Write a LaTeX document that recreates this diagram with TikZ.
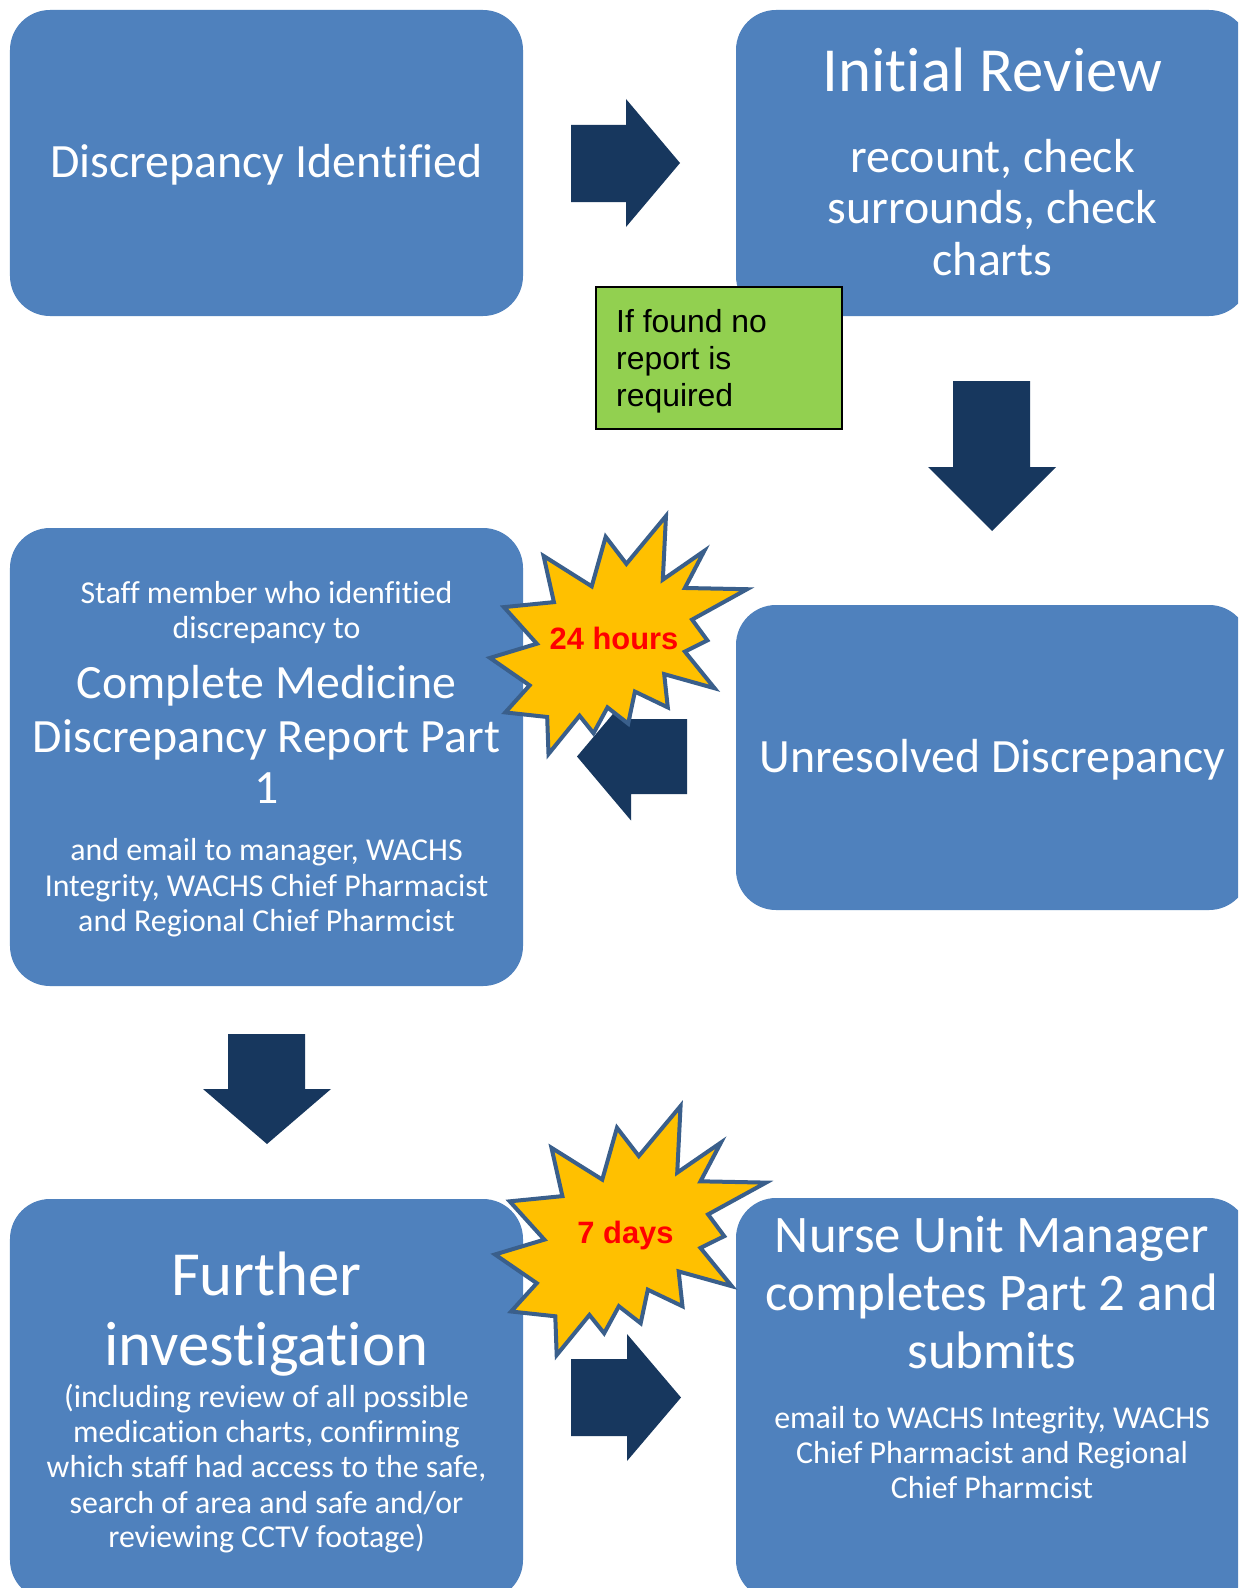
\documentclass[tikz,border=0pt]{standalone}
\usepackage{fontspec}
\setmainfont{Carlito}[Ligatures={CommonOff}]
\newfontfamily\arialf{Liberation Sans}
\definecolor{boxblue}{HTML}{4F81BD}
\definecolor{arrowblue}{HTML}{17375E}
\definecolor{starfill}{HTML}{FFC000}
\definecolor{starline}{HTML}{3A5F8B}
\definecolor{notegreen}{HTML}{92D050}
\tikzset{
  box/.style={fill=boxblue, draw=none, rounded corners=40bp, inner sep=0pt},
  blockarrow/.style={fill=arrowblue, draw=none},
  burst/.style={fill=starfill, draw=starline, line width=4bp, line join=miter},
  ln/.style={anchor=base, inner sep=0pt, text=white},
  fhuge/.style={font=\fontsize{63}{70}\selectfont},
  fmid/.style={font=\fontsize{53}{58}\selectfont},
  fhead/.style={font=\fontsize{48}{53}\selectfont},
  fsmall/.style={font=\fontsize{32}{35}\selectfont},
  notetxt/.style={anchor=base west, inner sep=0pt, text=black, font=\arialf\fontsize{32}{36}\selectfont},
  bursttxt/.style={anchor=base, inner sep=0pt, text=red, font=\arialf\bfseries\fontsize{31}{36}\selectfont},
}
\begin{document}
\begin{tikzpicture}[x=1bp,y=-1bp]
\useasboundingbox (0,0) rectangle (1238,1588);
\clip (0,0) rectangle (1238,1588);
\fill[white] (0,0) rectangle (1238,1588);

% boxes
\node[box, minimum width=513bp, minimum height=306bp] (b1) at (266.5,163) {};
\node[box, minimum width=513bp, minimum height=306bp] (b2) at (992.5,163) {};
\node[box, minimum width=513bp, minimum height=458bp] (b3) at (266.5,757) {};
\node[box, minimum width=513bp, minimum height=305bp] (b4) at (992.5,757.5) {};
\node[box, minimum width=513bp, minimum height=401bp] (b5) at (266.5,1399.5) {};
\node[box, minimum width=513bp, minimum height=402bp] (b6) at (992.5,1399) {};

% block arrows
\fill[blockarrow] (571,125) -- (626,125) -- (626,99) -- (680,163) -- (626,227) -- (626,202) -- (571,202) -- cycle;
\fill[blockarrow] (953,381) -- (1030,381) -- (1030,467) -- (1056,467) -- (992,531) -- (928,467) -- (953,467) -- cycle;
\fill[blockarrow] (687,719) -- (631,719) -- (631,692.5) -- (577,756.5) -- (631,820.5) -- (631,794) -- (687,794) -- cycle;
\fill[blockarrow] (228,1034) -- (305,1034) -- (305,1089) -- (331,1089) -- (267,1144) -- (203,1089) -- (228,1089) -- cycle;
\fill[blockarrow] (571,1359) -- (627,1359) -- (627,1334) -- (681,1397.5) -- (627,1461) -- (627,1436) -- (571,1436) -- cycle;

% green note
\node[fill=notegreen, draw=black, line width=1.2bp, minimum width=246bp, minimum height=142bp, inner sep=0pt] (note) at (719,358) {};
\node[notetxt] (n1) at (616,332) {If found no};
\node[notetxt] (n2) at (616,369) {report is};
\node[notetxt] (n3) at (616,406) {required};

% texts box 1
\node[ln, fhead] (t1) at (266.5,177) {Discrepancy Identified};
% box 2
\node[ln, fhuge] (t2a) at (992.5,92) {Initial Review};
\node[ln, fhead] (t2b) at (992.5,172) {recount, check};
\node[ln, fhead] (t2c) at (992.5,223) {surrounds, check};
\node[ln, fhead] (t2d) at (992.5,275) {charts};
% box 3
\node[ln, fsmall] (t3a) at (266.5,603) {Staff member who idenfitied};
\node[ln, fsmall] (t3b) at (266.5,638) {discrepancy to};
\node[ln, fhead] (t3c) at (266.5,698) {Complete Medicine};
\node[ln, fhead] (t3d) at (266.5,752) {Discrepancy Report Part};
\node[ln, fhead] (t3e) at (266.5,803) {1};
\node[ln, fsmall] (t3f) at (266.5,860) {and email to manager, WACHS};
\node[ln, fsmall] (t3g) at (266.5,896) {Integrity, WACHS Chief Pharmacist};
\node[ln, fsmall] (t3h) at (266.5,931) {and Regional Chief Pharmcist};
% box 4
\node[ln, fhead] (t4) at (992.5,772) {Unresolved Discrepancy};
% box 5
\node[ln, fhuge] (t5a) at (266.5,1295) {Further};
\node[ln, fhuge] (t5b) at (266.5,1365) {investigation};
\node[ln, fsmall] (t5c) at (266.5,1407) {(including review of all possible};
\node[ln, fsmall] (t5d) at (266.5,1442) {medication charts, confirming};
\node[ln, fsmall] (t5e) at (266.5,1477) {which staff had access to the safe,};
\node[ln, fsmall] (t5f) at (266.5,1513) {search of area and safe and/or};
\node[ln, fsmall] (t5g) at (266.5,1547) {reviewing CCTV footage)};
% box 6
\node[ln, fmid] (t6a) at (992,1252) {Nurse Unit Manager};
\node[ln, fmid] (t6b) at (992,1310) {completes Part 2 and};
\node[ln, fmid] (t6c) at (992,1368) {submits};
\node[ln, fsmall] (t6d) at (992,1428) {email to WACHS Integrity, WACHS};
\node[ln, fsmall] (t6e) at (992,1463) {Chief Pharmacist and Regional};
\node[ln, fsmall] (t6f) at (992,1498) {Chief Pharmcist};

% starbursts
\begin{scope}[shift={(490,516)}, xscale=1.1898, yscale=1.1019]
\draw[burst] (114.62,43.42) -- (147.90,0) -- (145.25,57.77) -- (180.07,31.72) -- (163.80,65.32) -- (216,66.45) -- (169.85,94.02) -- (182.70,112.90) -- (163.80,123.10) -- (188.77,156.32) -- (146.40,143.50) -- (149.42,173.70) -- (121.80,159.35) -- (116.12,188.42) -- (98.72,173.70) -- (87.00,197.12) -- (75.27,181.25) -- (49.17,216) -- (48.05,182.40) -- (12.85,178.25) -- (33.30,153.70) -- (0,128.77) -- (39.35,115.92) -- (11.72,82.70) -- (53.72,78.17) -- (45.02,36.25) -- (85.50,63.82) -- (97.22,18.87) -- cycle;
\end{scope}
\node[bursttxt] (s1) at (614,649) {24 hours};
\begin{scope}[shift={(495,1106)}, xscale=1.2546, yscale=1.1528]
\draw[burst] (114.62,43.42) -- (147.90,0) -- (145.25,57.77) -- (180.07,31.72) -- (163.80,65.32) -- (216,66.45) -- (169.85,94.02) -- (182.70,112.90) -- (163.80,123.10) -- (188.77,156.32) -- (146.40,143.50) -- (149.42,173.70) -- (121.80,159.35) -- (116.12,188.42) -- (98.72,173.70) -- (87.00,197.12) -- (75.27,181.25) -- (49.17,216) -- (48.05,182.40) -- (12.85,178.25) -- (33.30,153.70) -- (0,128.77) -- (39.35,115.92) -- (11.72,82.70) -- (53.72,78.17) -- (45.02,36.25) -- (85.50,63.82) -- (97.22,18.87) -- cycle;
\end{scope}
\node[bursttxt] (s2) at (625.5,1243) {7 days};
\end{tikzpicture}
\end{document}
